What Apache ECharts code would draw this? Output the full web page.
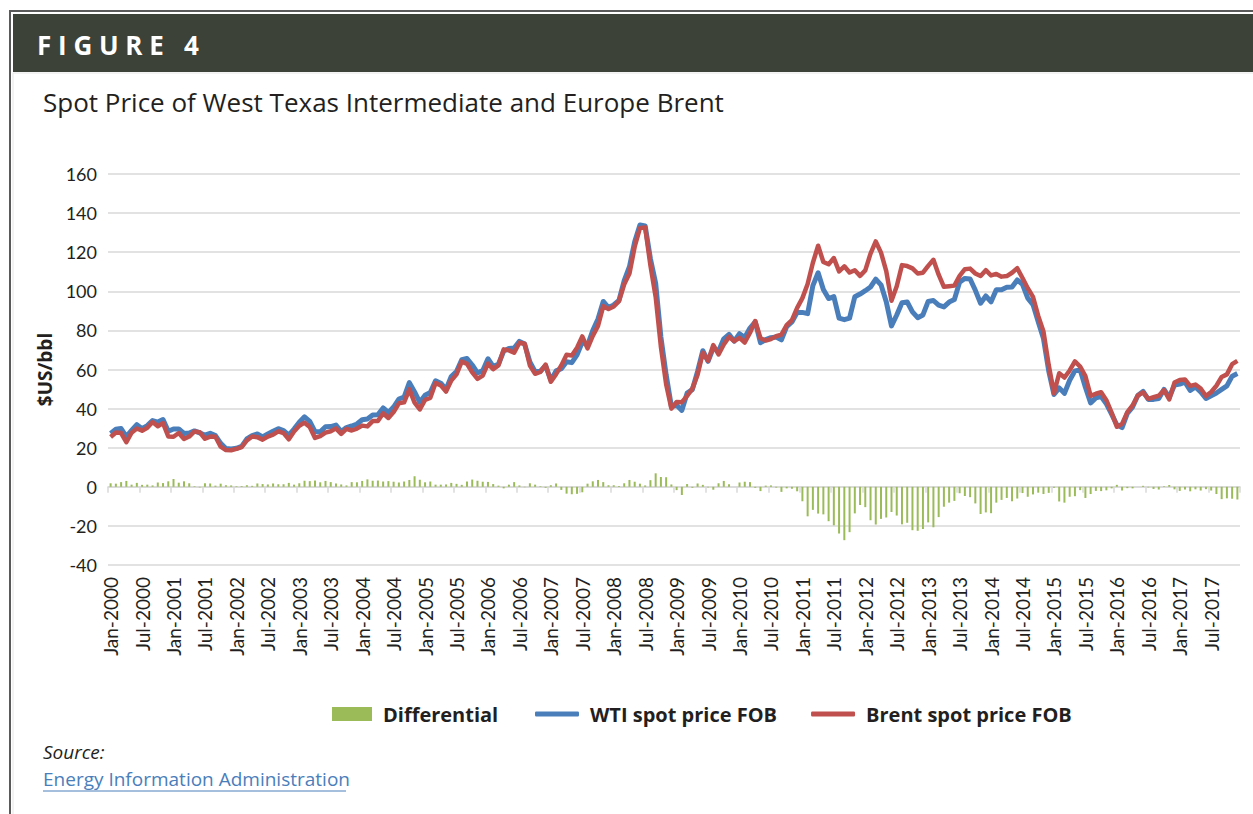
<!DOCTYPE html>
<html>
<head>
<meta charset="utf-8">
<script src="https://cdn.jsdelivr.net/npm/echarts@6/dist/echarts.min.js"></script>
<style>
  html, body { margin: 0; padding: 0; background: #fff; }
  #chart { width: 1253px; height: 814px; }
</style>
</head>
<body>
<div id="chart"></div>
<script>
// monthly averages, Jan 2000 .. Dec 2017
const wti = [
  27.3, 29.4, 29.8, 25.7, 28.8, 31.8, 29.7, 31.3, 33.9, 33.1, 34.4, 28.4,
  29.6, 29.6, 27.3, 27.5, 28.6, 27.6, 26.4, 27.4, 26.2, 22.2, 19.6, 19.4,
  19.7, 20.7, 24.5, 26.2, 27.0, 25.5, 27.0, 28.4, 29.7, 28.8, 26.4, 29.5,
  33.0, 35.8, 33.5, 28.2, 28.1, 30.7, 30.8, 31.6, 28.3, 30.3, 31.1, 32.1,
  34.3, 34.7, 36.7, 36.8, 40.3, 38.0, 40.8, 44.9, 45.9, 53.3, 48.5, 43.2,
  46.8, 48.2, 54.2, 53.0, 49.8, 56.4, 59.0, 65.0, 65.6, 62.3, 58.3, 59.4,
  65.5, 61.6, 62.7, 69.4, 70.8, 71.0, 74.4, 73.0, 63.8, 58.9, 59.1, 62.0,
  54.5, 59.3, 60.4, 64.0, 63.5, 67.5, 74.1, 72.4, 79.9, 85.8, 94.8, 91.7,
  93.0, 95.4, 105.5, 112.6, 125.4, 133.9, 133.4, 116.7, 104.1, 76.6, 57.3, 41.1,
  41.7, 39.1, 47.9, 49.7, 59.0, 69.6, 64.2, 71.1, 69.4, 75.7, 78.0, 74.5,
  78.3, 76.4, 81.2, 84.3, 73.7, 75.3, 76.3, 76.6, 75.2, 81.9, 84.3, 89.2,
  89.2, 88.6, 102.9, 109.5, 100.9, 96.3, 97.3, 86.3, 85.5, 86.3, 97.2, 98.6,
  100.3, 102.2, 106.2, 103.3, 94.7, 82.3, 87.9, 94.1, 94.5, 89.5, 86.5, 87.9,
  94.8, 95.3, 92.9, 92.0, 94.5, 95.8, 104.7, 106.6, 106.3, 100.5, 93.9, 97.6,
  94.6, 100.8, 100.8, 102.1, 102.2, 105.8, 103.6, 96.5, 93.2, 84.4, 75.8, 59.3,
  47.2, 50.6, 47.8, 54.5, 59.3, 59.8, 50.9, 42.9, 45.5, 46.2, 42.4, 37.2,
  31.7, 30.3, 37.6, 40.8, 46.7, 48.8, 44.7, 44.7, 45.2, 49.8, 45.7, 52.0,
  52.5, 53.5, 49.3, 51.1, 48.5, 45.2, 46.6, 48.0, 49.8, 51.6, 56.6, 57.9
];
const brent = [
  25.5, 27.8, 27.5, 22.8, 27.7, 29.8, 28.7, 30.2, 33.1, 31.0, 32.6, 25.7,
  25.6, 27.5, 24.5, 25.7, 28.3, 27.9, 24.6, 25.7, 25.6, 20.5, 18.8, 18.7,
  19.4, 20.3, 23.7, 25.7, 25.4, 24.1, 25.7, 26.7, 28.4, 27.5, 24.3, 28.3,
  31.2, 32.8, 30.6, 25.0, 25.9, 27.7, 28.4, 29.9, 27.1, 29.6, 28.8, 29.8,
  31.3, 30.9, 33.6, 33.6, 37.6, 35.2, 38.2, 42.7, 43.2, 49.8, 43.1, 39.6,
  44.5, 45.5, 53.1, 51.9, 48.7, 54.4, 57.5, 64.0, 62.9, 58.5, 55.2, 56.9,
  63.0, 60.2, 62.1, 70.3, 69.8, 68.6, 73.7, 73.2, 62.0, 57.8, 58.8, 62.5,
  53.7, 57.6, 62.1, 67.5, 67.2, 71.1, 76.9, 70.8, 77.2, 82.3, 92.4, 90.9,
  92.2, 95.0, 103.6, 109.1, 122.8, 132.3, 132.7, 113.2, 97.2, 71.6, 52.5, 40.0,
  43.4, 43.3, 46.5, 50.2, 57.3, 68.6, 64.4, 72.5, 67.7, 72.8, 76.7, 74.5,
  76.2, 73.8, 78.8, 84.8, 76.0, 74.8, 75.6, 77.0, 77.8, 82.7, 85.3, 91.5,
  96.5, 103.7, 114.6, 123.3, 115.0, 113.8, 117.0, 110.2, 112.8, 109.6, 110.8, 107.9,
  110.7, 119.3, 125.5, 119.8, 110.3, 95.2, 102.6, 113.4, 112.9, 111.7, 109.1, 109.5,
  113.0, 116.1, 108.5, 102.3, 102.6, 102.9, 107.9, 111.3, 111.6, 109.1, 107.8, 110.8,
  108.1, 108.9, 107.5, 107.8, 109.5, 111.8, 106.8, 101.6, 97.1, 87.4, 79.4, 62.3,
  47.8, 58.1, 55.9, 59.5, 64.1, 61.5, 56.6, 46.5, 47.6, 48.4, 44.3, 38.0,
  30.7, 32.2, 38.2, 41.6, 46.7, 48.3, 45.0, 45.8, 46.6, 49.5, 44.7, 53.3,
  54.6, 54.9, 51.6, 52.3, 50.3, 46.4, 48.5, 51.7, 56.2, 57.5, 62.7, 64.4
];
const differential = [
  1.8, 1.6, 2.4, 3.0, 1.1, 2.0, 1.0, 1.1, 0.7, 2.2, 1.9, 2.8,
  4.0, 2.1, 2.8, 1.8, 0.3, -0.3, 1.8, 1.7, 0.6, 1.6, 0.8, 0.7,
  0.3, 0.4, 0.8, 0.5, 1.7, 1.4, 1.2, 1.7, 1.3, 1.3, 2.0, 1.1,
  1.8, 3.1, 2.9, 3.2, 2.3, 3.0, 2.4, 1.7, 1.2, 0.7, 2.4, 2.3,
  3.0, 3.8, 3.1, 3.2, 2.7, 2.9, 2.6, 2.2, 2.7, 3.5, 5.4, 3.6,
  2.3, 2.7, 1.1, 1.1, 1.2, 2.0, 1.5, 1.0, 2.7, 3.7, 3.1, 2.6,
  2.5, 1.4, 0.6, -0.8, 1.1, 2.4, 0.7, -0.2, 1.8, 1.1, 0.3, -0.5,
  0.8, 1.7, -1.6, -3.5, -3.8, -3.6, -2.8, 1.6, 2.8, 3.5, 2.4, 0.8,
  0.8, 0.4, 1.8, 3.5, 2.6, 1.6, 0.7, 3.4, 6.9, 5.0, 4.9, 1.2,
  -1.7, -4.2, 1.4, -0.5, 1.7, 1.0, -0.3, -1.5, 1.8, 3.0, 1.3, 0.0,
  2.2, 2.6, 2.4, -0.5, -2.2, 0.6, 0.7, -0.4, -2.6, -0.8, -1.0, -2.3,
  -7.4, -15.1, -11.8, -13.7, -14.1, -17.6, -19.7, -23.9, -27.3, -23.2, -13.6, -9.3,
  -10.4, -17.1, -19.3, -16.4, -15.7, -12.9, -14.7, -19.2, -18.4, -22.2, -22.5, -21.6,
  -18.2, -20.7, -15.5, -10.2, -8.1, -7.2, -3.3, -4.7, -5.3, -8.5, -13.9, -13.1,
  -13.5, -8.1, -6.7, -5.7, -7.4, -6.0, -3.2, -5.1, -3.9, -3.0, -3.7, -3.1,
  -0.5, -7.5, -8.1, -5.1, -4.8, -1.7, -5.7, -3.7, -2.1, -2.2, -1.8, -0.8,
  1.0, -1.9, -0.7, -0.8, 0.0, 0.5, -0.3, -1.1, -1.4, 0.3, 0.9, -1.3,
  -2.1, -1.4, -2.3, -1.3, -1.9, -1.2, -1.9, -3.7, -6.3, -5.9, -6.1, -6.5
];
const monthNames = ['Jan', 'Feb', 'Mar', 'Apr', 'May', 'Jun', 'Jul', 'Aug', 'Sep', 'Oct', 'Nov', 'Dec'];
const years = [2000, 2001, 2002, 2003, 2004, 2005, 2006, 2007, 2008, 2009, 2010, 2011, 2012, 2013, 2014, 2015, 2016, 2017];
const months = [];
years.forEach(y => monthNames.forEach(m => months.push(m + '-' + y)));

const textColor = '#231f20';
const gridColor = '#d9d9d9';
const sans = 'Lato, "Open Sans", sans-serif';
const bold = '"Open Sans", "Noto Sans", sans-serif';

const chart = echarts.init(document.getElementById('chart'), null, { renderer: 'svg' });

const option = {
  backgroundColor: '#fff',
  animation: false,
  graphic: [
    // frame and banner
    { type: 'polyline', shape: { points: [[10, 814], [10, 11], [1253, 11]] },
      style: { stroke: '#5a5a5a', lineWidth: 2, fill: null } },
    { type: 'rect', shape: { x: 13, y: 14, width: 1240, height: 58 },
      style: { fill: '#3d4238' } },
    { type: 'line', shape: { x1: 13, y1: 73, x2: 1253, y2: 73 },
      style: { stroke: '#e6e6e6', lineWidth: 1 } },
    { type: 'line', shape: { x1: 13, y1: 73, x2: 13, y2: 814 },
      style: { stroke: '#e6e6e6', lineWidth: 1 } },
    { type: 'text', left: 37, top: 32,
      style: { text: 'F I G U R E   4', fill: '#fff', font: 'bold 26px ' + bold } },
    { type: 'text', left: 43, top: 89,
      style: { text: 'Spot Price of West Texas Intermediate and Europe Brent', fill: textColor, font: '26px ' + bold } },
    { type: 'text', left: 43, top: 742,
      style: { text: 'Source:', fill: textColor, font: 'italic 19px ' + bold } },
    { type: 'text', left: 43, top: 769,
      style: { text: 'Energy Information Administration', fill: '#4a7ebb', font: '19px ' + bold } },
    { type: 'line', shape: { x1: 43, y1: 791, x2: 346, y2: 791 },
      style: { stroke: '#4a7ebb', lineWidth: 1 } }
  ],
  legend: [
    {
      left: 332, top: 704, padding: 0, itemWidth: 40, itemHeight: 14, icon: 'rect',
      data: ['Differential'],
      textStyle: { fontFamily: bold, fontWeight: 'bold', fontSize: 20, color: textColor, padding: [0, 0, 0, 6] }
    },
    {
      left: 535, top: 704, padding: 0, itemWidth: 44, itemHeight: 5, icon: 'roundRect', itemGap: 34,
      data: ['WTI spot price FOB', 'Brent spot price FOB'],
      textStyle: { fontFamily: bold, fontWeight: 'bold', fontSize: 20, color: textColor, padding: [0, 0, 0, 6] }
    }
  ],
  grid: { left: 108, right: 13, top: 174, bottom: 249, containLabel: false },
  xAxis: [
    {
      type: 'category',
      data: months,
      boundaryGap: true,
      axisLine: { show: false, onZero: false },
      axisTick: { show: false },
      axisLabel: {
        interval: 5, rotate: 90, margin: 12,
        fontFamily: sans, fontSize: 19, color: textColor
      },
      splitLine: { show: false }
    },
    {
      type: 'category',
      data: months,
      position: 'bottom',
      boundaryGap: true,
      axisLine: { show: true, onZero: true, lineStyle: { color: gridColor, width: 1.5 } },
      axisTick: { show: true, interval: 5, length: 6, inside: false, lineStyle: { color: gridColor, width: 1.5 } },
      axisLabel: { show: false },
      splitLine: { show: false }
    }
  ],
  yAxis: {
    type: 'value',
    min: -40, max: 160, interval: 20,
    name: '$US/bbl',
    nameLocation: 'middle',
    nameGap: 48,
    nameTextStyle: { fontFamily: bold, fontWeight: 'bold', fontSize: 19, color: textColor },
    axisLine: { show: false },
    axisTick: { show: false },
    axisLabel: { fontFamily: sans, fontSize: 18, color: textColor, margin: 11 },
    splitLine: { lineStyle: { color: gridColor, width: 1.5 } }
  },
  series: [
    {
      name: 'Differential', type: 'bar', data: differential,
      barWidth: 2, itemStyle: { color: '#9bbb59' }
    },
    {
      name: 'WTI spot price FOB', type: 'line', data: wti,
      symbol: 'none', lineStyle: { color: '#4a7ebb', width: 5, join: 'round' },
      itemStyle: { color: '#4a7ebb' }
    },
    {
      name: 'Brent spot price FOB', type: 'line', data: brent,
      symbol: 'none', lineStyle: { color: '#c0504d', width: 4.5, join: 'round' },
      itemStyle: { color: '#c0504d' }
    }
  ]
};

chart.setOption(option);
</script>
</body>
</html>
